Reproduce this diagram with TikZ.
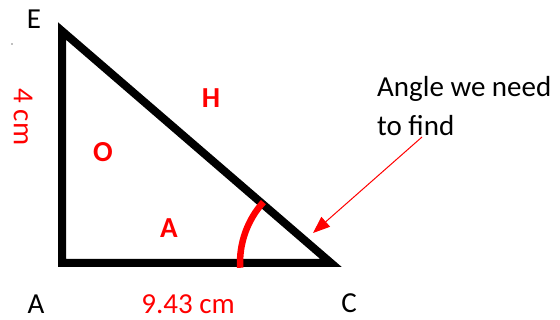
\documentclass[tikz,border=0pt]{standalone}
\usepackage{fontspec}
\setmainfont{Carlito}
\usetikzlibrary{arrows.meta}
\begin{document}
\begin{tikzpicture}[x=1pt,y=-1pt,
  lbl/.style={font=\fontsize{29}{32}\selectfont, inner sep=0pt},
  redlbl/.style={lbl, text=red},
  side/.style={redlbl, font=\fontsize{29}{32}\selectfont\bfseries},
  tri/.style={line width=8pt, miter limit=10, line join=miter},
  anglearc/.style={red, line width=6.5pt},
  pointer/.style={red, line width=1pt, -{Triangle[length=17pt,width=13pt]}}]
\useasboundingbox (0,0) rectangle (560,320);
\coordinate (E) at (62,31);
\coordinate (A) at (62,263);
\coordinate (C) at (331,263);
\draw[tri] (E) -- (A) -- (C) -- cycle;
\draw[anglearc] ([shift={(177:91)}]C) arc[start angle=177, end angle=222, radius=91];
\node[lbl, anchor=base] (lE) at (34,29) {E};
\node[lbl, anchor=base] (lA) at (36,314) {A};
\node[lbl, anchor=base] (lC) at (349,313) {C};
\node[redlbl, rotate=-90] (l4) at (23,117) {4 cm};
\node[redlbl, anchor=base] (l943) at (188,314) {9.43 cm};
\node[side] (H) at (211,98) {H};
\node[side] (O) at (103,152) {O};
\node[side] (Aa) at (169,228) {A};
\node[lbl, anchor=base west] (t1) at (377,97) {Angle we need};
\node[lbl, anchor=base west] (t2) at (377,136) {to find};
\coordinate (tip) at (313,233);
\coordinate (tail) at (422,137);
\draw[pointer] (tail) -- (tip);
\fill[gray] (12,44) circle (0.8);
\end{tikzpicture}
\end{document}
